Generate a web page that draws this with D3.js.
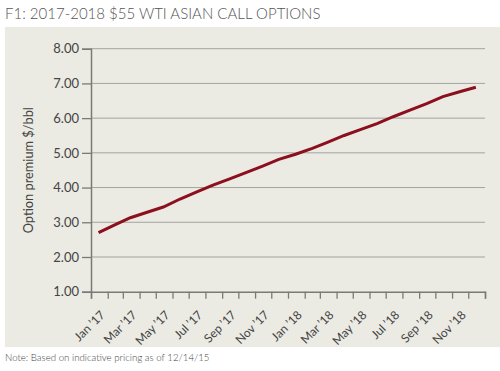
<!DOCTYPE html>
<html>
<head>
<meta charset="utf-8">
<script src="https://cdn.jsdelivr.net/npm/d3@7"></script>
<style>
  body { margin: 0; background: #fff; }
  svg { display: block; font-family: Lato, "Open Sans", sans-serif; }
</style>
</head>
<body>
<svg id="svg"></svg>
<script>
// monthly option premium, $/bbl (mid-month)
var months = ["2017-01","2017-02","2017-03","2017-04","2017-05","2017-06","2017-07","2017-08","2017-09","2017-10","2017-11","2017-12",
              "2018-01","2018-02","2018-03","2018-04","2018-05","2018-06","2018-07","2018-08","2018-09","2018-10","2018-11","2018-12"];
var premium = [2.70,2.93,3.13,3.29,3.44,3.67,3.87,4.07,4.25,4.43,4.62,4.81,
               4.96,5.13,5.30,5.50,5.67,5.84,6.04,6.23,6.42,6.62,6.76,6.89];
var yTicks = [1,2,3,4,5,6,7,8];
var monthNames = ["Jan","Feb","Mar","Apr","May","Jun","Jul","Aug","Sep","Oct","Nov","Dec"];

var W = 500, H = 371;
var Marge = {top: 48.7, right: 15, bottom: 79.3, left: 91};

var svg = d3.select("#svg").attr("width", W).attr("height", H);

// background panel
svg.append("rect").attr("x", 5).attr("y", 27).attr("width", 495).attr("height", 320).attr("fill", "#ebeae3");

svg.append("text").attr("x", 5).attr("y", 19)
  .attr("font-size", 15).attr("fill", "#555").attr("font-weight", 300)
  .text("F1: 2017-2018 $55 WTI ASIAN CALL OPTIONS");

svg.append("text").attr("x", 5).attr("y", 361)
  .attr("font-size", 9.7).attr("fill", "#444").attr("font-weight", 300)
  .text("Note: Based on indicative pricing as of 12/14/15");

var x_scale = d3.scaleTime()
  .domain([new Date(2017, 0, 1), new Date(2019, 0, 1)])
  .range([Marge.left, W - Marge.right]);
var y_scale = d3.scaleLinear()
  .domain([1, 8])
  .range([H - Marge.bottom, Marge.top]);

// gridlines
svg.append("g").selectAll("line").data(yTicks.slice(1)).join("line")
  .attr("x1", Marge.left).attr("x2", W - Marge.right)
  .attr("y1", d => y_scale(d)).attr("y2", d => y_scale(d))
  .attr("stroke", "#a3a3a0").attr("stroke-width", 1);

var yAxis = svg.append("g").attr("transform", "translate(" + Marge.left + ",0)")
  .call(d3.axisLeft(y_scale).tickValues(yTicks).tickFormat(d3.format(".2f")).tickSize(9).tickPadding(3));

var monthTicks = d3.timeMonth.range(new Date(2017, 0, 1), new Date(2019, 0, 2));
var xAxis = svg.append("g").attr("transform", "translate(0," + y_scale(1) + ")")
  .call(d3.axisBottom(x_scale).tickValues(monthTicks).tickSize(7)
    .tickFormat((d, i) => i % 2 === 0 && i < 24 ? monthNames[d.getMonth()] + " \u2019" + String(d.getFullYear()).slice(2) : ""));

[yAxis, xAxis].forEach(function(a) {
  a.select(".domain").attr("stroke", "#7a7a78").attr("stroke-width", 1.5);
  a.selectAll(".tick line").attr("stroke", "#7a7a78").attr("stroke-width", 1.3);
  a.selectAll("text").attr("fill", "#444").attr("font-family", "Lato, sans-serif");
});
yAxis.selectAll("text").attr("font-size", 13);
xAxis.selectAll("text")
  .attr("font-size", 12)
  .attr("text-anchor", "end")
  .attr("dx", 0).attr("dy", 0)
  .attr("transform", "translate(7,17) rotate(-45)");

svg.append("text")
  .attr("transform", "translate(33," + (y_scale(4.5)) + ") rotate(-90)")
  .attr("text-anchor", "middle").attr("font-size", 12.8).attr("fill", "#444")
  .text("Option premium $/bbl");

var lineData = months.map((m, i) => ({date: new Date(+m.slice(0, 4), +m.slice(5) - 1, 15), v: premium[i]}));
var lineFunction = d3.line()
  .x(d => x_scale(d.date))
  .y(d => y_scale(d.v));

svg.append("path")
  .attr("d", lineFunction(lineData))
  .attr("stroke", "#8c0f1e")
  .attr("stroke-width", 3)
  .attr("fill", "none");
</script>
</body>
</html>
